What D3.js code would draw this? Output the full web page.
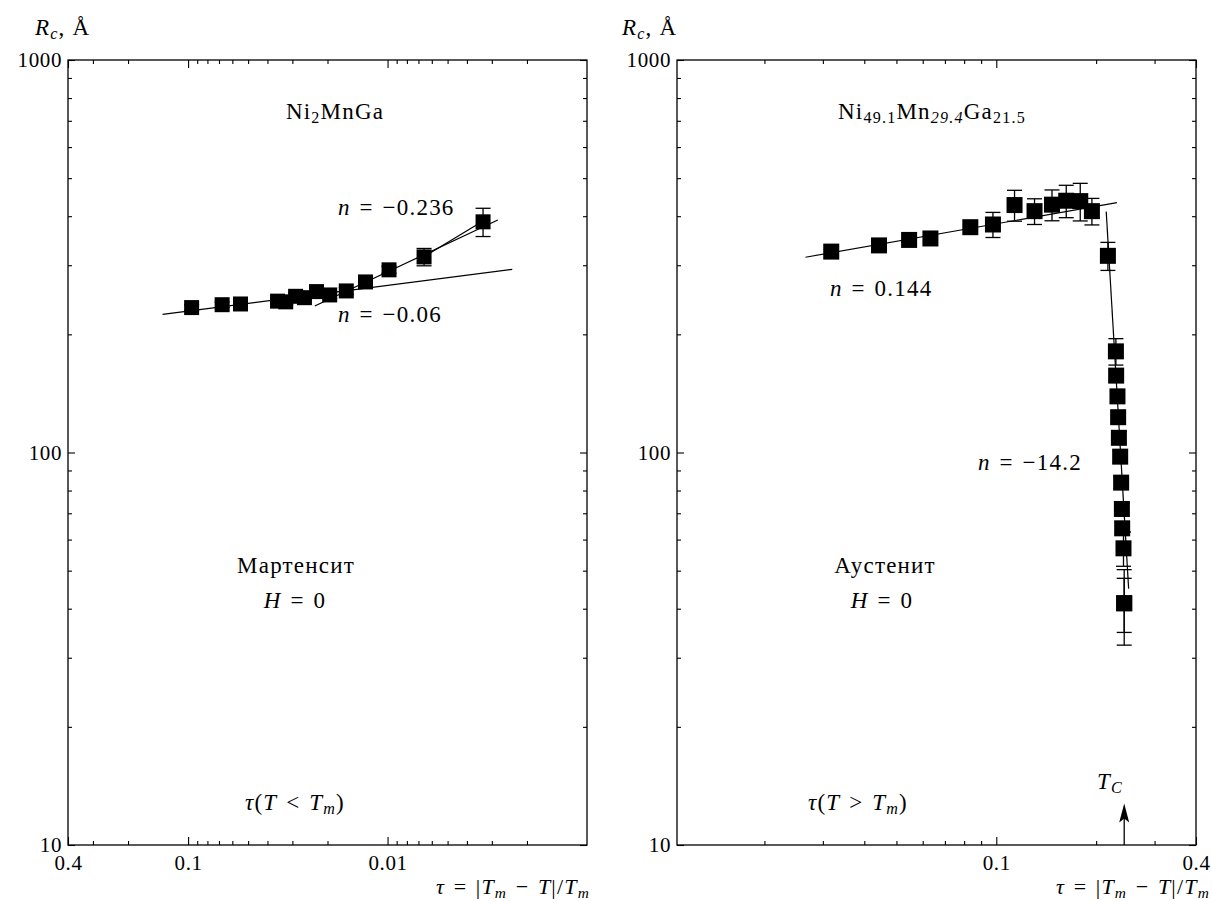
<!DOCTYPE html>
<html lang="ru">
<head>
<meta charset="UTF-8">
<title>Rc vs tau</title>
<script src="https://cdn.jsdelivr.net/npm/d3@7"></script>
<style>
  body { margin: 0; background: #fff; }
  svg text { font-family: "Liberation Serif", "DejaVu Serif", serif; fill: #000; }
</style>
</head>
<body>
<script>

// ---- data ----
// left panel: Ni2MnGa, martensite
var leftTau = [0.0960, 0.0675, 0.0546, 0.0356, 0.0324, 0.0289, 0.0261, 0.0227, 0.0195, 0.0161, 0.0129, 0.00983, 0.00656, 0.00332];
var leftRc  = [234, 238, 239, 243, 242, 250, 248, 257, 252, 258, 272, 292, 315, 387];
var leftErr = [4, 4, 4, 4, 4, 5, 5, 5, 5, 5, 8.5, 6, 16, 32];

// fit lines, left
var leftFitA_tau = [0.1342, 0.00237], leftFitA_rc = [224.9, 292.9];   // n = -0.06
var leftFitB_tau = [0.02316, 0.0028], leftFitB_rc = [236.1, 391.2];   // n = -0.236
var leftFitC_tau = [0.0068, 0.0034],  leftFitC_rc = [312, 386];

// right panel: Ni49.1Mn29.4Ga21.5, austenite
var rightTau = [0.0318, 0.0443, 0.0546, 0.0633, 0.0835, 0.0977, 0.1135, 0.1304, 0.1472, 0.1625, 0.1791, 0.1942, 0.2170,
                0.2294, 0.2298, 0.2319, 0.2330, 0.2342, 0.2363, 0.2379, 0.2391, 0.2396, 0.2418, 0.2430, 0.2430];
var rightRc  = [325, 337, 348, 351, 375, 381, 427, 412, 428, 438, 437, 412, 317,
                181, 157, 139, 123, 109, 97.6, 83.8, 71.8, 64.1, 57.0, 41.3, 41.3];
var rightErr = [4, 4, 4, 4, 5, 28, 38.6, 31, 38.6, 41.5, 48, 32, 26,
                14, 5, 5, 4, 4, 3.5, 3, 2.5, 2.5, 5.7, 6.5, 9];

var rightFitA_tau = [0.02659, 0.2310], rightFitA_rc = [314.4, 433];   // n = 0.144
var rightFitB_tau = [0.2145, 0.2506],  rightFitB_rc = [410.8, 45];    // n = -14.2

var tcTau = 0.2430, tcRc = [10, 12.6];

// ticks
var yMajor = [10, 100, 1000];
var yMinor = [20, 30, 40, 50, 60, 70, 80, 90, 200, 300, 400, 500, 600, 700, 800, 900];
var leftXMajor = [0.4, 0.1, 0.01];
var leftXMinor = [0.3, 0.2, 0.09, 0.08, 0.07, 0.06, 0.05, 0.04, 0.03, 0.02,
                  0.009, 0.008, 0.007, 0.006, 0.005, 0.004, 0.003, 0.002];
var rightXMajor = [0.1, 0.4];
var rightXMinor = [0.02, 0.03, 0.04, 0.05, 0.06, 0.07, 0.08, 0.09, 0.2, 0.3];

var W = 1212, H = 901;
var yTop = 60, yBot = 845;

var svg = d3.select("body").append("svg")
    .attr("width", W)
    .attr("height", H);

var y = d3.scaleLog().domain([10, 1000]).range([yBot, yTop]);

function fmtX(d) { return String(d); }

function drawPanel(cfg) {
    var x = d3.scaleLog().domain(cfg.xDomain).range([cfg.x0, cfg.x1]);
    var g = svg.append("g");

    // axes: bottom / top / left / right, ticks inward
    g.append("g").attr("transform", "translate(0," + yBot + ")")
        .call(d3.axisBottom(x).tickValues(cfg.xMajor).tickSize(-8).tickPadding(10).tickFormat(fmtX));
    g.append("g").attr("transform", "translate(0," + yBot + ")")
        .call(d3.axisBottom(x).tickValues(cfg.xMinor).tickSize(-4).tickFormat(""));
    g.append("g").attr("transform", "translate(0," + yTop + ")")
        .call(d3.axisTop(x).tickValues(cfg.xMajor).tickSize(-8).tickFormat(""));
    g.append("g").attr("transform", "translate(0," + yTop + ")")
        .call(d3.axisTop(x).tickValues(cfg.xMinor).tickSize(-4).tickFormat(""));
    g.append("g").attr("transform", "translate(" + cfg.x0 + ",0)")
        .call(d3.axisLeft(y).tickValues(yMajor).tickSize(-7).tickPadding(6).tickFormat(d3.format("d")));
    g.append("g").attr("transform", "translate(" + cfg.x0 + ",0)")
        .call(d3.axisLeft(y).tickValues(yMinor).tickSize(-4).tickFormat(""));
    g.append("g").attr("transform", "translate(" + cfg.x1 + ",0)")
        .call(d3.axisRight(y).tickValues(yMajor).tickSize(-7).tickFormat(""));
    g.append("g").attr("transform", "translate(" + cfg.x1 + ",0)")
        .call(d3.axisRight(y).tickValues(yMinor).tickSize(-4).tickFormat(""));

    g.selectAll(".domain").remove();
    g.selectAll(".tick line").attr("stroke", "#000").attr("stroke-width", 1.1);
    g.selectAll(".tick text").attr("font-size", 21).attr("letter-spacing", 0.6);

    g.append("rect")
        .attr("x", cfg.x0).attr("y", yTop)
        .attr("width", cfg.x1 - cfg.x0).attr("height", yBot - yTop)
        .attr("fill", "none").attr("stroke", "#000").attr("stroke-width", 1.3);

    // fit lines
    var line = d3.line().x(function(d) { return x(d[0]); }).y(function(d) { return y(d[1]); });
    cfg.fits.forEach(function(f) {
        g.append("path")
            .attr("d", line(d3.zip(f[0], f[1])))
            .attr("fill", "none").attr("stroke", "#000").attr("stroke-width", 1.2);
    });

    var pts = d3.zip(cfg.tau, cfg.rc, cfg.err);
    var cw = 7.5;
    var eb = g.append("g").attr("stroke", "#000").attr("stroke-width", 1.3);
    pts.forEach(function(p) {
        var px = x(p[0]), y1 = y(p[1] + p[2]), y2 = y(p[1] - p[2]);
        eb.append("line").attr("x1", px).attr("x2", px).attr("y1", y1).attr("y2", y2);
        eb.append("line").attr("x1", px - cw).attr("x2", px + cw).attr("y1", y1).attr("y2", y1);
        eb.append("line").attr("x1", px - cw).attr("x2", px + cw).attr("y1", y2).attr("y2", y2);
    });

    g.selectAll("rect.pt").data(pts).enter().append("rect")
        .attr("class", "pt")
        .attr("x", function(d) { return x(d[0]) - cfg.ms / 2; })
        .attr("y", function(d) { return y(d[1]) - cfg.ms / 2; })
        .attr("width", cfg.ms).attr("height", cfg.ms)
        .attr("fill", "#000");

    return {g: g, x: x};
}

var L = drawPanel({
    x0: 68, x1: 587, xDomain: [0.4, 0.001],
    xMajor: leftXMajor, xMinor: leftXMinor,
    tau: leftTau, rc: leftRc, err: leftErr, ms: 15,
    fits: [[leftFitA_tau, leftFitA_rc], [leftFitB_tau, leftFitB_rc], [leftFitC_tau, leftFitC_rc]]
});

var R = drawPanel({
    x0: 677, x1: 1196, xDomain: [0.0109, 0.4],
    xMajor: rightXMajor, xMinor: rightXMinor,
    tau: rightTau, rc: rightRc, err: rightErr, ms: 16,
    fits: [[rightFitA_tau, rightFitA_rc], [rightFitB_tau, rightFitB_rc]]
});

// T_C arrow
var ax = R.x(tcTau);
R.g.append("line").attr("x1", ax).attr("x2", ax)
    .attr("y1", y(tcRc[0])).attr("y2", y(tcRc[1]) + 10)
    .attr("stroke", "#000").attr("stroke-width", 1.3);
R.g.append("path")
    .attr("d", "M" + ax + "," + (y(tcRc[1]) - 2) + " l-5,19 l5,-4 l5,4 z")
    .attr("fill", "#000");

// ---- text ----
var FS = 23;
var SP = "\u2004";   // math spacing around relations

// parts: [text, italic?, "sub"/"up"/null]
function rich(x, yy, anchor, parts, size) {
    size = size || FS;
    var t = svg.append("text").attr("x", x).attr("y", yy)
        .attr("text-anchor", anchor).attr("font-size", size)
        .attr("letter-spacing", 1.2);
    parts.forEach(function(p) {
        var s = t.append("tspan").text(p[0]);
        if (p[1]) s.attr("font-style", "italic");
        if (p[2] === "sub") s.attr("font-size", size * 0.7).attr("dy", 4);
        if (p[2] === "up") s.attr("dy", -4);
    });
    return t;
}

// axis titles
[35, 622].forEach(function(xs) {
    rich(xs, 35, "start", [["R", true], ["c", true, "sub"], [", Å", false, "up"]]);
});
[590, 1210].forEach(function(xe) {
    rich(xe, 894, "end", [["τ", true], [SP + "=" + SP + "|", false], ["T", true], ["m", true, "sub"],
        [SP + "−" + SP, false, "up"], ["T", true], ["|/", false], ["T", true], ["m", true, "sub"]], 22);
});

// left panel labels
rich(335, 119, "middle", [["Ni", false], ["2", false, "sub"], ["MnGa", false, "up"]]);
rich(338, 215, "start", [["n", true], [SP + "=" + SP + "−0.236", false]]);
rich(338, 322, "start", [["n", true], [SP + "=" + SP + "−0.06", false]]);
rich(296, 573, "middle", [["Мартенсит", false]]);
rich(295, 608, "middle", [["H", true], [SP + "=" + SP + "0", false]]);
rich(295, 810, "middle", [["τ", true], ["(", false], ["T", true], [SP + "<" + SP, false], ["T", true], ["m", true, "sub"], [")", false, "up"]]);

// right panel labels
rich(932, 119, "middle", [["Ni", false], ["49.1", false, "sub"], ["Mn", false, "up"], ["29.4", true, "sub"],
    ["Ga", false, "up"], ["21.5", false, "sub"]]);
rich(830, 296, "start", [["n", true], [SP + "=" + SP + "0.144", false]]);
rich(978, 470, "start", [["n", true], [SP + "=" + SP + "−14.2", false]]);
rich(885, 573, "middle", [["Аустенит", false]]);
rich(882, 608, "middle", [["H", true], [SP + "=" + SP + "0", false]]);
rich(858, 810, "middle", [["τ", true], ["(", false], ["T", true], [SP + ">" + SP, false], ["T", true], ["m", true, "sub"], [")", false, "up"]]);
rich(1110, 789, "middle", [["T", true], ["C", true, "sub"]]);

</script>
</body>
</html>
